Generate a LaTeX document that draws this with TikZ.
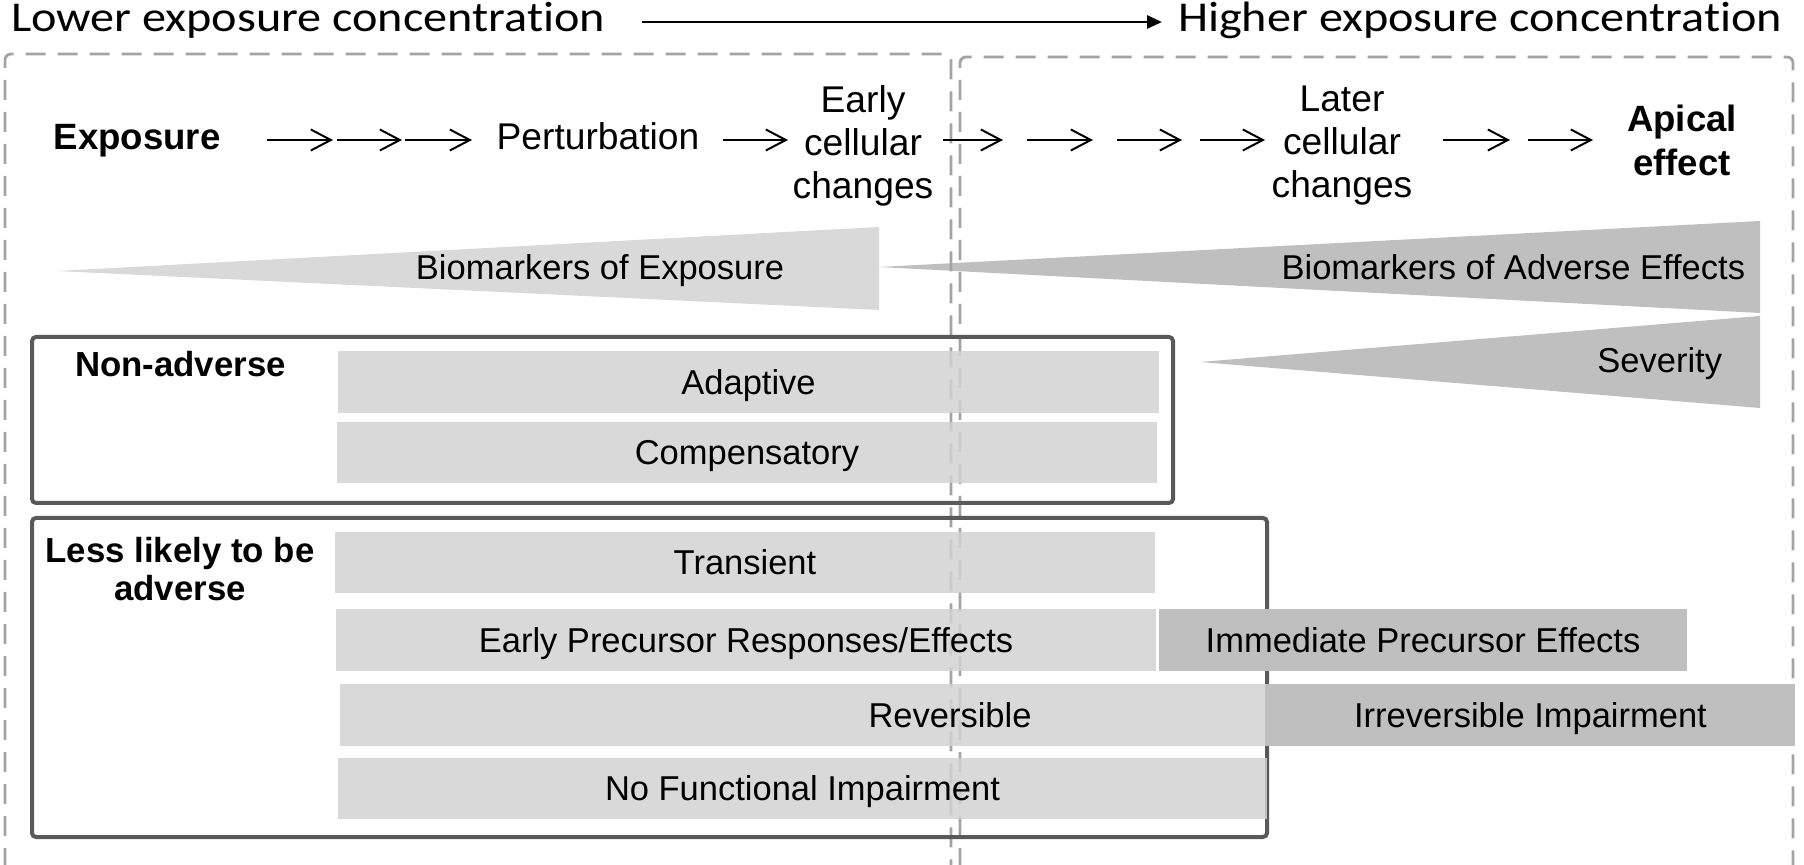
\documentclass[tikz,border=0pt]{standalone}
\usepackage{fontspec}
\setmainfont{Liberation Sans}
\newfontfamily\calibrifont[Ligatures=NoCommon]{Carlito}
\usetikzlibrary{arrows.meta}

\definecolor{lightbar}{HTML}{D2D2D2}
\definecolor{lightwedge}{HTML}{D9D9D9}
\definecolor{darkbar}{HTML}{BFBFBF}
\definecolor{boxline}{HTML}{595959}
\definecolor{dashline}{HTML}{A3A3A3}

\begin{document}
\begin{tikzpicture}[x=0.5pt,y=-0.5pt,
  every node/.style={inner sep=0pt,outer sep=0pt},
  body/.style={font=\fontsize{17.25pt}{20.5pt}\selectfont},
  stage/.style={font=\fontsize{18.6pt}{21.5pt}\selectfont},
  grouplabel/.style={font=\fontsize{17.4pt}{19pt}\selectfont\bfseries},
  headword/.style={font=\fontsize{18.3pt}{22pt}\selectfont\bfseries},
  scalelabel/.style={font=\calibrifont\fontsize{21.25pt}{26pt}\selectfont},
  trend/.style={line width=1.4pt,-{Triangle[length=7.5pt,width=6.5pt]}},
  flow/.style={line width=1pt,-{Straight Barb[length=10pt,width=10.5pt,line width=1pt]}},
  zone/.style={draw=dashline,line width=1.4pt,dash pattern=on 10pt off 6pt,rounded corners=3pt},
  groupbox/.style={draw=boxline,line width=2pt,rounded corners=2pt},
  bar/.style={body,fill=lightbar,fill opacity=0.85,text opacity=1,
    text height=12.35pt,text depth=0pt,minimum height=30.75pt},
  darkbar/.style={body,fill=darkbar,text height=12.35pt,text depth=0pt,minimum height=30.75pt}
]
\useasboundingbox (0,0) rectangle (1804,865);
\clip (0,0) rectangle (1804,865);

% concentration scale
\node[scalelabel,anchor=base west] (lower) at (11,32) {\scalebox{1.135}[1]{Lower exposure concentration}};
\node[scalelabel,anchor=base east] (higher) at (1782,32) {\scalebox{1.135}[1]{Higher exposure concentration}};
\coordinate (trendS) at (642,22);
\coordinate (trendE) at (1162,22);
\draw[trend] (trendS) -- (trendE);

% wedges
\fill[lightwedge] (57,271) -- (879,227) -- (879,310) -- cycle;
\fill[darkbar] (879,267) -- (1760,221) -- (1760,313) -- cycle;
\fill[darkbar] (1200,362) -- (1760,316) -- (1760,408) -- cycle;

% dashed zones
\draw[zone] (5,900) -- (5,54) -- (951,54) -- (951,900);
\draw[zone] (960,900) -- (960,57) -- (1793,57) -- (1793,900);

% grouping frames
\draw[groupbox] (32,337) rectangle (1173,503);
\draw[groupbox] (32,518) rectangle (1267,837);

% response bars
\node[bar,minimum width=410.5pt] (adaptive) at (748.5,382) {Adaptive};
\node[bar,minimum width=410pt] (compensatory) at (747,452.5) {Compensatory};
\node[bar,minimum width=410pt] (transient) at (745,562.5) {Transient};
\node[bar,minimum width=410pt,minimum height=31pt] (earlyprec) at (746,640) {Early Precursor Responses/Effects};
\node[darkbar,minimum width=264pt,minimum height=31pt] (immediate) at (1423,640) {Immediate Precursor Effects};
\node[bar,minimum width=610pt,minimum height=31pt] (reversible) at (950,715) {Reversible};
\node[darkbar,minimum width=264.5pt,minimum height=31pt] (irreversible) at (1530.5,715) {Irreversible Impairment};
\node[bar,minimum width=464.5pt] (nofunc) at (802.5,788.5) {No Functional Impairment};

% wedge labels
\node[body,anchor=base] (bexp) at (600,280) {Biomarkers of Exposure};
\node[body,anchor=base east] (badv) at (1745,280) {Biomarkers of Adverse Effects};
\node[body,anchor=base east] (severity) at (1722,373) {Severity};

% group labels
\node[grouplabel,anchor=base west] (nonadverse) at (75,377) {Non-adverse};
\node[grouplabel,align=center,anchor=north] (lesslikely) at (180,537) {Less likely to be\\adverse};

% progression
\node[headword,anchor=base] (exposure) at (137,150) {Exposure};
\node[stage,anchor=base] (perturbation) at (598,150) {Perturbation};
\node[stage,align=center,anchor=north] (earlycell) at (863,86) {Early\\cellular\\changes};
\node[stage,align=center,anchor=north] (latercell) at (1342,86) {Later\\cellular\\changes};
\node[headword,align=center,anchor=north] (apical) at (1682,105) {Apical\\effect};

\foreach \a/\b [count=\i] in {267/333,337/402,405/472,723/788,943/1003,1027/1093,1117/1182,1200/1265,1443/1510,1528/1593}{
  \coordinate (f\i s) at (\a,140);
  \coordinate (f\i e) at (\b,140);
  \draw[flow] (f\i s) -- (f\i e);
}
\end{tikzpicture}
\end{document}
